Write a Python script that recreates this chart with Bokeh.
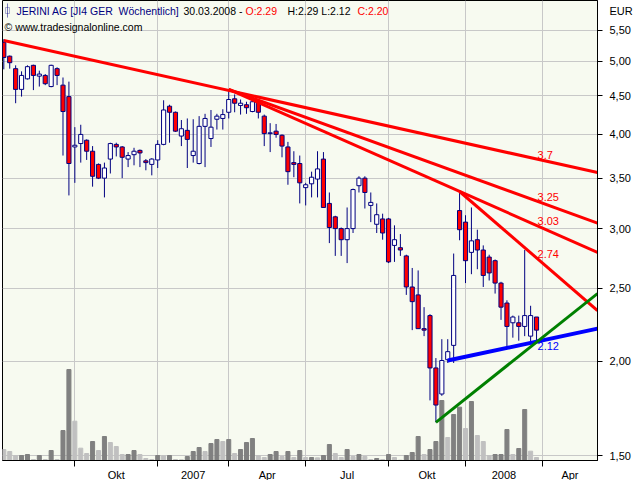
import math
from bokeh.plotting import figure
from bokeh.models import (Range1d, LinearScale, FixedTicker, CustomJSTickFormatter,
                          Label, BoxAnnotation)
from bokeh.core.properties import value
from bokeh.embed import file_html
from bokeh.resources import INLINE

# JERINI AG [JI4 GER] weekly candles, week of 03.07.2006 ... week of 24.03.2008
opens = [5.30, 5.08, 4.89, 4.59, 4.74, 4.94, 4.78, 4.79, 4.63, 4.89,
         4.65, 4.49, 3.85, 3.89, 3.93, 3.80, 3.65, 3.50, 3.71, 3.88,
         3.85, 3.71, 3.76, 3.81, 3.69, 3.65, 3.70, 3.88, 4.36, 4.28,
         3.98, 4.05, 3.75, 3.66, 4.10, 3.95, 4.19, 4.20, 4.28, 4.46,
         4.37, 4.38, 4.29, 4.42, 4.23, 4.01, 4.04, 3.99, 3.85, 3.67,
         3.66, 3.40, 3.44, 3.49, 3.71, 3.24, 3.11, 3.00, 2.90, 3.00,
         3.42, 3.50, 3.22, 3.04, 3.09, 3.09, 2.85, 2.83, 2.76, 2.51,
         2.45, 2.21, 2.30, 1.96, 1.81, 2.01, 2.10, 3.17, 3.06, 2.79,
         2.90, 2.81, 2.75, 2.72, 2.54, 2.39, 2.25, 2.25, 2.225, 2.16,
         2.29]
highs = [5.35, 5.09, 4.94, 4.85, 4.94, 4.95, 4.86, 4.81, 4.95, 4.91,
         4.76, 4.70, 4.09, 4.12, 3.94, 3.86, 3.66, 3.67, 3.90, 3.90,
         3.86, 3.79, 3.84, 3.82, 3.71, 3.72, 3.93, 4.44, 4.38, 4.29,
         4.18, 4.20, 4.19, 4.23, 4.26, 4.31, 4.26, 4.32, 4.59, 4.52,
         4.45, 4.42, 4.48, 4.44, 4.25, 4.14, 4.13, 4.00, 3.91, 3.80,
         3.75, 3.45, 3.57, 3.80, 3.79, 3.35, 3.12, 3.01, 3.20, 3.39,
         3.52, 3.52, 3.35, 3.24, 3.14, 3.10, 3.03, 2.95, 2.77, 2.66,
         2.64, 2.36, 2.31, 2.02, 2.14, 2.14, 2.78, 3.36, 3.125, 3.20,
         2.99, 2.85, 2.77, 2.73, 2.55, 2.41, 2.30, 2.30, 2.81, 2.37,
         2.29]
lows = [4.88, 4.89, 4.40, 4.49, 4.73, 4.58, 4.63, 4.65, 4.62, 4.65,
        3.75, 3.32, 3.45, 3.67, 3.70, 3.41, 3.49, 3.30, 3.55, 3.74,
        3.50, 3.62, 3.64, 3.62, 3.585, 3.53, 3.61, 3.87, 3.90, 4.03,
        3.86, 3.61, 3.67, 3.65, 3.62, 3.85, 4.06, 4.06, 4.20, 4.28,
        4.25, 4.26, 4.28, 4.20, 3.86, 3.79, 3.96, 3.73, 3.43, 3.51,
        3.24, 3.22, 3.30, 3.30, 3.20, 2.87, 2.76, 2.76, 2.70, 2.96,
        3.35, 3.19, 3.06, 2.96, 2.90, 2.70, 2.71, 2.76, 2.45, 2.20,
        2.21, 2.16, 1.775, 1.66, 1.80, 1.99, 1.99, 2.895, 2.54, 2.61,
        2.65, 2.51, 2.56, 2.46, 2.27, 2.09, 2.15, 2.13, 2.16, 2.12,
        2.12]
closes = [5.06, 4.98, 4.59, 4.79, 4.92, 4.79, 4.81, 4.67, 4.94, 4.79,
          4.29, 3.66, 3.87, 4.00, 3.80, 3.52, 3.50, 3.61, 3.89, 3.85,
          3.73, 3.75, 3.80, 3.78, 3.67, 3.71, 3.88, 4.31, 4.28, 4.04,
          4.07, 3.94, 3.80, 4.10, 4.20, 4.09, 4.23, 4.25, 4.45, 4.40,
          4.40, 4.34, 4.42, 4.28, 4.01, 4.02, 4.00, 3.86, 3.57, 3.65,
          3.45, 3.43, 3.51, 3.60, 3.20, 3.01, 3.00, 2.90, 3.00, 3.38,
          3.50, 3.35, 3.25, 3.13, 2.96, 2.71, 2.90, 2.81, 2.51, 2.40,
          2.21, 2.20, 1.96, 1.75, 2.005, 2.06, 2.60, 2.99, 2.72, 2.89,
          2.81, 2.60, 2.62, 2.54, 2.36, 2.225, 2.29, 2.225, 2.30, 2.30,
          2.20]
volume_k = [33, 27, 15, 15, 18, 3, 15, 3, 30, 3,
            90, 273, 118, 37, 21, 57, 30, 72, 54, 42,
            18, 18, 30, 18, 6, 3, 15, 14, 15, 3,
            2, 12, 27, 39, 27, 51, 63, 57, 63, 21,
            33, 54, 66, 15, 9, 18, 27, 12, 27, 9,
            30, 9, 9, 8, 15, 48, 21, 9, 33, 12,
            18, 12, 3, 6, 3, 18, 9, 1, 15, 24,
            72, 18, 33, 57, 180, 69, 138, 160, 96, 177,
            75, 57, 15, 18, 18, 93, 18, 36, 153, 28,
            9]

quarter_start_bar = [12, 26, 38, 51, 65, 78, 91]
quarter_labels = ["Okt", "2007", "Apr", "Jul", "Okt", "2008", "Apr"]
price_ticks = [1.5, 2.0, 2.5, 3.0, 3.5, 4.0, 4.5, 5.0, 5.5]
currency = "EUR"

# trend lines: start bar, start price, price at right edge of chart
trend_start_bar = [0, 38, 38, 77, 75, 73]
trend_start_price = [5.33, 4.59, 4.59, 3.36, 2.005, 1.66]
trend_end_price = [3.56, 3.05, 2.79, 2.336, 2.21, 2.46]
trend_value_labels = ["3.7", "3.25", "3.03", "2.74", "2.12", ""]

trend_styles = [("#ff0000", 3), ("#ff0000", 3), ("#ff0000", 3), ("#ff0000", 3),
                ("#0000ff", 4), ("#008000", 3)]

X0, X1 = -0.22, 100.3
Y0, Y1 = 1.4773, 6.022
FW, FH = 595, 460
FONT = "Liberation Sans"

n = len(opens)
idx = list(range(n))

p = figure(frame_width=FW, frame_height=FH,
           x_range=Range1d(X0, X1), y_range=Range1d(Y0, Y1),
           y_axis_type="log", y_axis_location="right",
           output_backend="svg", toolbar_location=None,
           min_border_left=2, min_border_right=43, min_border_top=0, min_border_bottom=20,
           background_fill_color="#f7faf0", border_fill_color="white")
p.outline_line_color = "black"
p.outline_line_alpha = 1.0

# volume on its own hidden linear scale
p.extra_y_ranges = {"vol": Range1d(0, 1380)}
p.extra_y_scales = {"vol": LinearScale()}
vol_colors = ["#c0c0c0"] + ["#808080" if volume_k[i] >= volume_k[i - 1] else "#c0c0c0"
                            for i in range(1, n)]
p.vbar(x=idx, top=volume_k, bottom=0, width=0.68, color=vol_colors, y_range_name="vol")

# candles
p.segment(x0=idx, y0=lows, x1=idx, y1=highs, line_color="#000080", line_width=1)
tops = [max(o, c) for o, c in zip(opens, closes)]
bots = [min(o, c) for o, c in zip(opens, closes)]
fills = ["#ff0000" if c < o else "#ffffff" for o, c in zip(opens, closes)]
p.vbar(x=idx, top=tops, bottom=bots, width=0.7, fill_color=fills,
       line_color="#000080", line_width=1)

# trend lines + value labels
last = n - 1
for sb, sp, ep, txt, (col, w) in zip(trend_start_bar, trend_start_price, trend_end_price,
                                      trend_value_labels, trend_styles):
    p.line([sb, X1], [sp, ep], line_color=col, line_width=w)
    if txt:
        frac = (last - sb) / (X1 - sb)
        v = math.exp(math.log(sp) + frac * (math.log(ep) - math.log(sp)))
        p.text(x=[last], y=[v], text=[txt], text_color=col, text_font=value(FONT),
               text_font_size="11px", text_align="left", x_offset=1,
               text_baseline="top" if col == "#0000ff" else "bottom")

# price axis: minor ticks mark the prices, an extra unmarked tick near the top carries "EUR"
eur_pos = Y1 * math.exp(-10.0 / FH * math.log(Y1 / Y0))
p.yaxis.ticker = FixedTicker(ticks=price_ticks + [eur_pos], minor_ticks=price_ticks)
p.yaxis.formatter = CustomJSTickFormatter(args=dict(cur=currency, lim=eur_pos * 0.999),
    code="return tick >= lim ? cur : tick.toFixed(2).replace('.', ',');")
p.yaxis.major_tick_out = 0
p.yaxis.major_tick_in = 0
p.yaxis.minor_tick_out = 5
p.yaxis.minor_tick_in = 0
p.yaxis.minor_tick_line_color = "black"
p.yaxis.major_label_standoff = 7
p.yaxis.axis_line_color = "black"
p.yaxis.major_label_text_font = FONT
p.yaxis.major_label_text_font_size = "11px"
p.yaxis.major_label_text_color = "black"
p.ygrid.ticker = FixedTicker(ticks=price_ticks)

mids = [(a + b) / 2 for a, b in zip(quarter_start_bar[:-1], quarter_start_bar[1:])]
mids.append((quarter_start_bar[-1] + X1) / 2)
p.xaxis.ticker = FixedTicker(ticks=mids, minor_ticks=quarter_start_bar)
p.xaxis.formatter = CustomJSTickFormatter(args=dict(pos=mids, lab=quarter_labels), code="""
for (let i = 0; i < pos.length; i++) { if (Math.abs(pos[i] - tick) < 1e-6) return lab[i]; }
return "";
""")
p.xaxis.major_tick_out = 0
p.xaxis.major_tick_in = 0
p.xaxis.minor_tick_out = 6
p.xaxis.minor_tick_in = 0
p.xaxis.minor_tick_line_color = "black"
p.xaxis.axis_line_color = "black"
p.xaxis.major_label_standoff = 2
p.xaxis.major_label_text_font = FONT
p.xaxis.major_label_text_font_size = "11px"
p.xaxis.major_label_text_color = "black"

p.xgrid.ticker = FixedTicker(ticks=quarter_start_bar)
p.xgrid.grid_line_color = "#c8c8c8"
p.ygrid.grid_line_color = "#c8c8c8"

# header texts
header = [("JERINI AG [JI4 GER\u00a0 W\u00f6chentlich]", 14, "#000080"),
          ("30.03.2008 -", 181, "black"),
          ("O:2.29", 243, "#ff0000"),
          ("H:2.29 L:2.12", 285, "black"),
          ("C:2.20", 355, "#ff0000")]
for t, x, c in header:
    p.add_layout(Label(x=x, y=FH - 10, x_units="screen", y_units="screen", text=t,
                       text_color=c, text_font=FONT, text_font_size="10.5px",
                       text_baseline="middle"))
p.add_layout(Label(x=2, y=FH - 26, x_units="screen", y_units="screen",
                   text="\u00a9 www.tradesignalonline.com", text_color="black",
                   text_font=FONT, text_font_size="10.5px", text_baseline="middle"))
# small chart-type icon
p.add_layout(BoxAnnotation(left=3, right=7, top=FH - 7, bottom=FH - 13,
                           left_units="screen", right_units="screen",
                           top_units="screen", bottom_units="screen",
                           fill_alpha=0, line_color="#000080", line_width=1))
p.add_layout(BoxAnnotation(left=5, right=5, top=FH - 3, bottom=FH - 17,
                           left_units="screen", right_units="screen",
                           top_units="screen", bottom_units="screen",
                           fill_alpha=0, line_color="#000080", line_width=1))

open("out.html", "w").write(file_html(p, INLINE))
